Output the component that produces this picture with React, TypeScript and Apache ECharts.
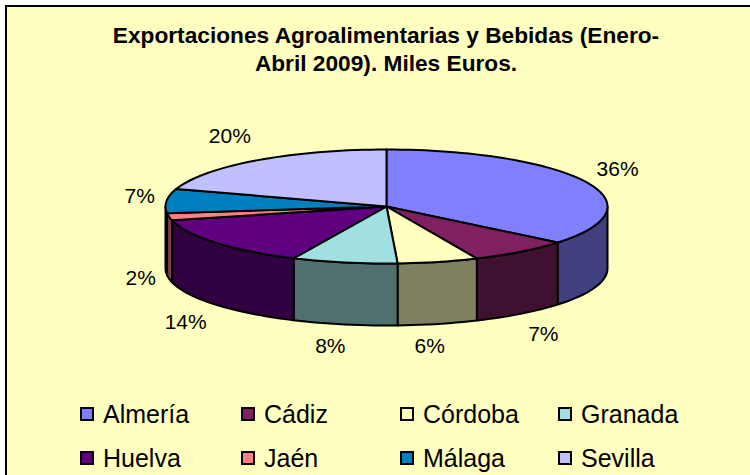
import React, { useEffect, useRef } from "react";
import * as echarts from "echarts";

const titleLines = ["Exportaciones Agroalimentarias y Bebidas (Enero-", "Abril 2009). Miles Euros."];
const provinces = ["Almería", "Cádiz", "Córdoba", "Granada", "Huelva", "Jaén", "Málaga", "Sevilla"];
const shares = [35.9, 7.4, 5.9, 7.7, 14.2, 2.0, 6.9, 20.0];
const topColors = ["#8080FF", "#802060", "#FFFFC0", "#A0E0E0", "#600080", "#FF8080", "#0080C0", "#C0C0FF"];
const wallColors = ["#404080", "#401030", "#808060", "#507070", "#300040", "#804040", "#004060", "#606080"];

const CX = 386.5, CY = 206.5, RX = 221, RY = 57, DEPTH = 62;
const LX = 258, LY = 82;
const labelNudges = [[-2, -3], [0, 0], [-17, -3], [-7, -3], [-2, 1], [8, -6], [10, -3], [-5, -5]];
const legendLefts = [80, 241, 400, 558];
const legendTops = [400, 444];
const total = shares.reduce((a, b) => a + b, 0);

const pt = (f: number, dy = 0) => {
  const a = f * Math.PI * 2;
  return [CX + RX * Math.sin(a), CY - RY * Math.cos(a) + dy];
};
const arc = (f0: number, f1: number, dy = 0) => {
  const n = Math.max(2, Math.ceil((f1 - f0) * 180));
  const out: number[][] = [];
  for (let i = 0; i <= n; i++) out.push(pt(f0 + ((f1 - f0) * i) / n, dy));
  return out;
};

function sliceRenderer(index: number) {
  const start = shares.slice(0, index).reduce((a, b) => a + b, 0) / total;
  const end = start + shares[index] / total;
  return () => {
    const children: any[] = [];
    const w0 = Math.max(start, 0.25), w1 = Math.min(end, 0.75);
    if (w1 > w0) {
      children.push({
        type: "polygon",
        shape: { points: [...arc(w0, w1), ...arc(w0, w1, DEPTH).reverse()] },
        style: { fill: wallColors[index], stroke: "#000", lineWidth: 2, lineJoin: "round" },
      });
    }
    children.push({
      type: "polygon",
      z2: 5,
      shape: { points: [[CX, CY], ...arc(start, end)] },
      style: { fill: topColors[index], stroke: "#000", lineWidth: 2, lineJoin: "round" },
    });
    const mid = ((start + end) / 2) * Math.PI * 2;
    const c = Math.cos(mid);
    children.push({
      type: "text",
      z2: 6,
      style: {
        text: Math.round((shares[index] / total) * 100) + "%",
        x: CX + LX * Math.sin(mid) + labelNudges[index][0],
        y: CY - LY * c + (c < 0 ? DEPTH : 0) + labelNudges[index][1],
        font: '21px "Liberation Sans"',
        fill: "#000",
        align: "center",
        verticalAlign: "middle",
      },
    });
    return { type: "group", children };
  };
}

export default function App() {
  const ref = useRef<HTMLDivElement>(null);
  useEffect(() => {
    const chart = echarts.init(ref.current!, undefined, { renderer: "svg" });
    chart.setOption({
      animation: false,
      backgroundColor: "#fff",
      title: {
        text: titleLines.join("\n"),
        left: 381,
        textAlign: "center",
        top: 16,
        textStyle: { fontFamily: "Liberation Sans", fontWeight: "bold", fontSize: 22.7, lineHeight: 28, color: "#000" },
      },
      graphic: [{
        type: "rect",
        z: -10,
        shape: { x: 6, y: 6, width: 800, height: 520 },
        style: { fill: "#FFFFC0", stroke: "#000", lineWidth: 2 },
      }],
      legend: provinces.map((name, i) => ({
        orient: "horizontal",
        left: legendLefts[i % 4],
        top: legendTops[i < 4 ? 0 : 1],
        padding: 0,
        itemWidth: 12,
        itemHeight: 12,
        selectedMode: false,
        icon: "rect",
        data: [name],
        itemStyle: { borderColor: "#000", borderWidth: 2 },
        textStyle: { fontFamily: "Liberation Sans", fontSize: 25, color: "#000", padding: [0, 0, 0, 5], lineHeight: 28 },
      })),
      series: provinces.map((name, i) => ({
        type: "custom",
        name,
        coordinateSystem: "none",
        silent: true,
        itemStyle: { color: topColors[i] },
        data: [shares[i]],
        renderItem: sliceRenderer(i),
      })),
    });
    return () => chart.dispose();
  }, []);
  return <div ref={ref} style={{ position: "fixed", left: 0, top: 0, width: 750, height: 475 }} />;
}
